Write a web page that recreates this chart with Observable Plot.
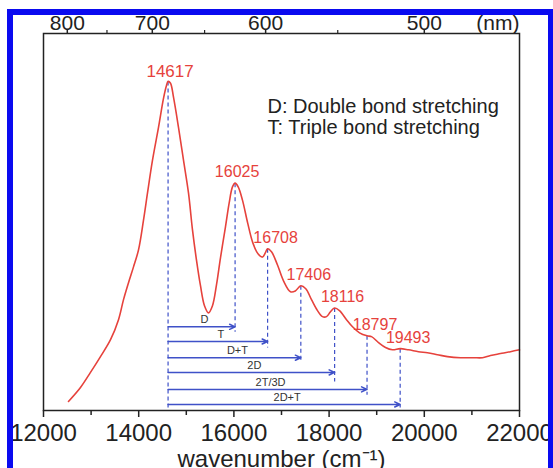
<!DOCTYPE html>
<html><head><meta charset="utf-8">
<script src="https://cdn.jsdelivr.net/npm/d3@7"></script>
<script src="https://cdn.jsdelivr.net/npm/@observablehq/plot@0.6"></script>
<style>
html,body{margin:0;padding:0;background:#fff;}
#wrap{position:relative;width:553px;height:468px;overflow:hidden;background:#fff;}
#border{position:absolute;left:7px;top:9px;width:547px;height:480px;border:6px solid #0a0af0;border-bottom:none;box-sizing:border-box;pointer-events:none;}
</style></head><body>
<div id="wrap"><div id="chart"></div><div id="border"></div></div>
<script>
// Absorption spectrum (wavenumber in cm^-1, intensity in arbitrary units)
const wavenumber = [12525,12777,12987,13197,13408,13576,13681,13786,13891,13996,14101,14185,14290,14416,14521,14584,14617,14668,14731,14836,14941,15046,15130,15214,15298,15382,15466,15550,15634,15718,15823,15900,15970,16025,16090,16180,16290,16400,16510,16600,16660,16708,16790,16916,17042,17189,17290,17406,17510,17630,17756,17861,17945,18029,18116,18218,18366,18492,18639,18797,18891,19038,19185,19332,19493,19668,19878,20067,20277,20487,20760,21034,21223,21391,21601,21811,22000];
const intensity = [0.024,0.061,0.101,0.143,0.188,0.241,0.294,0.339,0.381,0.426,0.505,0.577,0.664,0.751,0.828,0.862,0.873,0.868,0.831,0.751,0.664,0.577,0.479,0.399,0.331,0.278,0.259,0.278,0.333,0.405,0.487,0.550,0.593,0.603,0.593,0.558,0.497,0.444,0.415,0.407,0.418,0.429,0.421,0.386,0.344,0.315,0.317,0.331,0.323,0.294,0.265,0.249,0.249,0.262,0.272,0.265,0.241,0.222,0.206,0.198,0.196,0.180,0.167,0.161,0.164,0.161,0.156,0.153,0.148,0.143,0.140,0.140,0.140,0.146,0.151,0.156,0.161];

// Labelled peaks
const peakWavenumbers = [14617,16025,16708,17406,18116,18797,19493];
const peakIntensity = [0.873,0.603,0.429,0.331,0.272,0.198,0.164];
const dropLineEnd = [0.008,0.209,0.167,0.130,0.077,0.042,0.008];

// Vibronic assignments (arrows from the 0-0 peak)
const assignments = ["D","T","D+T","2D","2T/3D","2D+T"];
const arrowLevel = [0.222,0.183,0.140,0.101,0.056,0.016];

// Axis ticks
const xTicks = [12000,14000,16000,18000,20000,22000];
const xMinorTicks = [13000,15000,17000,19000,21000];
const nmTicks = [800,700,600,500];
const nmMinorTicks = [750,650,550];

const legendLines = ["D: Double bond stretching","T: Triple bond stretching"];
const xLabel = "wavenumber (cm\u207B\u00B9)";
const topUnit = "(nm)";

const red = "#e6423c";
const blue = "#3f51c8";

const spectrum = wavenumber.map((x,i)=>({x, y:intensity[i]}));
const peaks = peakWavenumbers.map((x,i)=>({x, y:peakIntensity[i], y2:dropLineEnd[i], label:String(x)}));
const arrows = assignments.map((a,i)=>({x1:peakWavenumbers[0], x2:peakWavenumbers[i+1], y:arrowLevel[i], label:a, xm:(peakWavenumbers[0]+peakWavenumbers[i+1])/2}));

const chart = Plot.plot({
  width:553, height:468,
  marginLeft:43, marginRight:34, marginTop:33, marginBottom:58,
  style:{fontFamily:"'Liberation Sans', Arial, sans-serif", background:"transparent", color:"#222", overflow:"visible"},
  x:{domain:[12000,22000]},
  y:{domain:[0,1], axis:null},
  marks:[
    Plot.link(peaks, {x1:"x", x2:"x", y1:"y", y2:"y2", stroke:blue, strokeDasharray:"4,3", strokeWidth:1.2}),
    Plot.arrow(arrows, {x1:"x1", x2:"x2", y1:"y", y2:"y", stroke:blue, strokeWidth:1.5, headLength:6, headAngle:50}),
    Plot.text(arrows, {x:"xm", y:"y", text:"label", dx:3, dy:-7, fontSize:11, fill:"#333"}),
    Plot.line(spectrum, {x:"x", y:"y", stroke:red, strokeWidth:1.6, curve:"catmull-rom"}),
    Plot.text(peaks.slice(0,1), {x:"x", y:"y", text:"label", dx:2, dy:-4, lineAnchor:"bottom", fill:red, fontSize:17}),
    Plot.text(peaks.slice(1,2), {x:"x", y:"y", text:"label", dx:2, dy:-6, lineAnchor:"bottom", fill:red, fontSize:16}),
    Plot.text(peaks.slice(2), {x:"x", y:"y", text:"label", dx:8, dy:-6, lineAnchor:"bottom", fill:red, fontSize:16}),
    Plot.text([legendLines.join("\n")], {frameAnchor:"top-left", dx:224, dy:65, textAnchor:"start", lineAnchor:"top", fontSize:20, lineHeight:1.05, fill:"#222"}),
    Plot.frame({stroke:"#222", strokeWidth:1.5}),
    Plot.axisX(xTicks, {anchor:"bottom", tickSize:7, tickPadding:6, fontSize:24, tickFormat:d=>String(d), label:null, stroke:"#222", strokeWidth:1.5}),
    Plot.axisX(xMinorTicks, {anchor:"bottom", tickSize:5, tickFormat:()=>"", label:null, stroke:"#222", strokeWidth:1.5}),
    Plot.axisX(nmTicks.map(n=>1e7/n), {anchor:"top", tickSize:5, tickFormat:()=>"", label:null, stroke:"#222", strokeWidth:1.5}),
    Plot.axisX(nmTicks.map(n=>1e7/n), {anchor:"top", tickSize:0, tickPadding:4, fontSize:21, tickFormat:d=>String(Math.round(1e7/d)), label:null}),
    Plot.axisX(nmMinorTicks.map(n=>1e7/n), {anchor:"top", tickSize:4, tickFormat:()=>"", label:null, stroke:"#222", strokeWidth:1.2}),
    Plot.text([topUnit], {frameAnchor:"top-right", textAnchor:"end", lineAnchor:"bottom", dy:-4, fontSize:21, fill:"#222"}),
    Plot.text([xLabel], {frameAnchor:"bottom", lineAnchor:"bottom", dy:56, dx:0, fontSize:24, fill:"#222"})
  ]
});
document.getElementById("chart").appendChild(chart);
</script>
</body></html>
